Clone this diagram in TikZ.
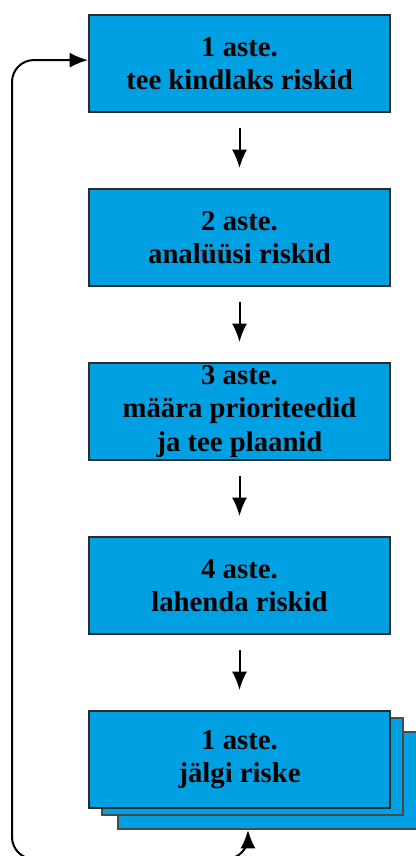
\documentclass[tikz,border=0pt]{standalone}
\usepackage{fontspec}
\setmainfont{Liberation Serif}
\usepackage{tikz}
\usetikzlibrary{positioning,arrows.meta,backgrounds}
\definecolor{cStage}{HTML}{00A0E3}
\definecolor{cEdge} {HTML}{2B2B2B}
\definecolor{cBack} {HTML}{4A4A4A}
\tikzset{
  >={Latex[length=5.5mm,width=4.5mm]},
  sbox/.style={draw=cEdge,line width=0.06cm,fill=cStage,align=center,
               minimum width=9.03cm,minimum height=2.91cm,inner sep=0pt,
               font=\bfseries\fontsize{24.5}{28.5}\selectfont},
  sback/.style={sbox,draw=cBack},
  sar/.style={->,line width=0.06cm,black,shorten <=0.45cm,shorten >=0.6cm},
  sloop/.style={<->,line width=0.06cm,black,rounded corners=0.66cm},
}

\begin{document}
\begin{tikzpicture}[node distance=2.25cm]
        \useasboundingbox (0,0) rectangle (12.48,-25.68);
        \node[sbox] (s1) at (7.185,-1.905) {1 aste.\\ tee kindlaks riskid};
        \node[sbox,below=of s1] (s2) {2 aste.\\analüüsi riskid};
        \node[sbox,below=of s2] (s3) {3 aste.\\määra prioriteedid\\ja tee plaanid};
        \node[sbox,below=of s3] (s4) {4 aste.\\lahenda riskid};
        \node[sbox,below=of s4] (s5) {1 aste.\\jälgi riske};
        \begin{scope}[on background layer]
          \node[sback] (s5c) at ([shift={(0.87,-0.63)}]s5.center) {};
          \node[sback] (s5b) at ([shift={(0.39,-0.21)}]s5.center) {};
        \end{scope}
        \draw[sar] (s1)--(s2);
        \draw[sar] (s2)--(s3);
        \draw[sar] (s3)--(s4);
        \draw[sar] (s4)--(s5);
        % feedback loop round the left side
        \coordinate (lt) at (0.36,-1.8);
        \coordinate (lb) at (0.36,-25.77);
        \coordinate (rb) at (7.44,-25.77);
        \draw[sloop] ([yshift=0.1cm]s1.west)--(lt)--(lb)--(rb)--(rb|-s5c.south);
      \end{tikzpicture}
\end{document}
